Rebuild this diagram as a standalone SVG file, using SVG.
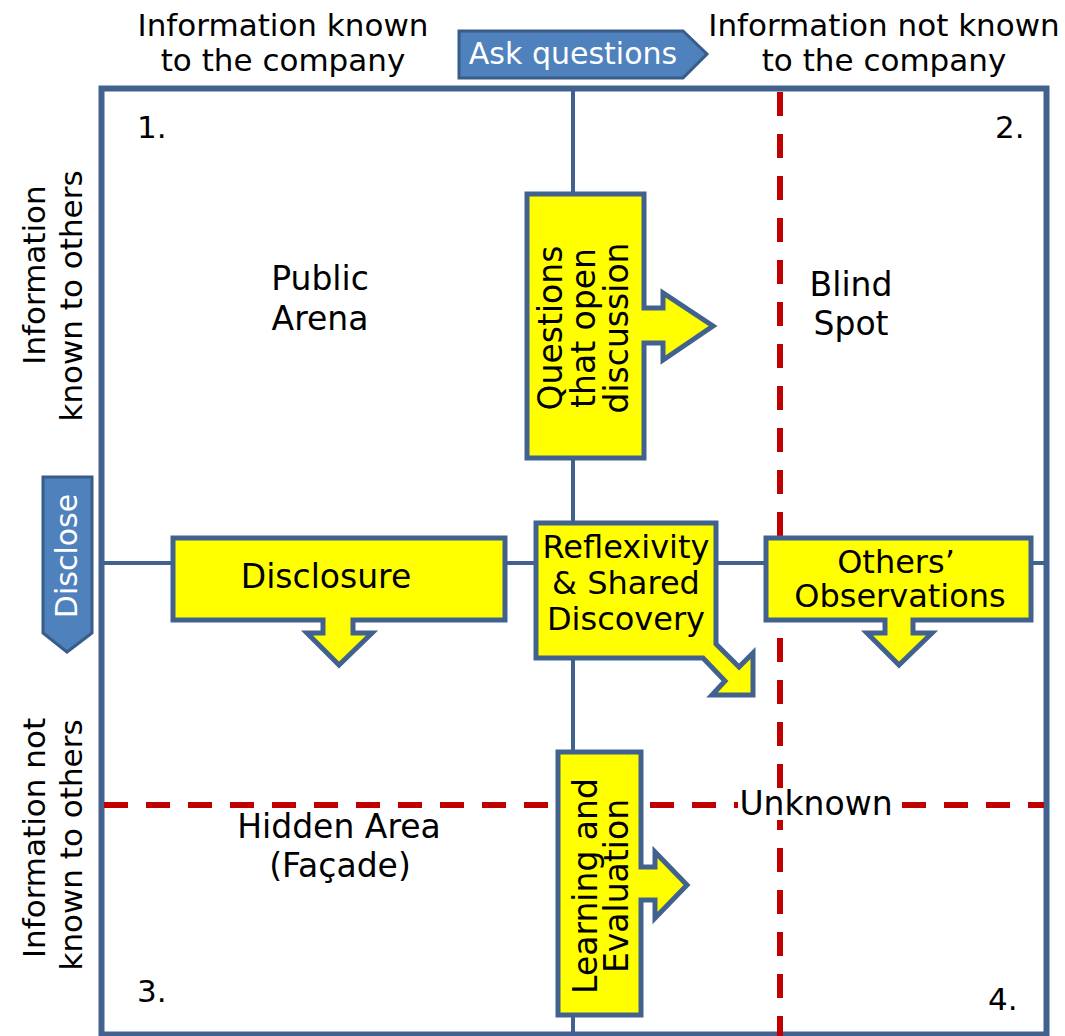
<svg xmlns="http://www.w3.org/2000/svg" width="1065" height="1036" viewBox="0 0 1065 1036">
<style>
text{font-family:"DejaVu Sans","Verdana",sans-serif;fill:#000;}
.h{font-size:31px;text-anchor:middle;}
.b{font-size:33px;text-anchor:middle;}
.s{font-size:32px;text-anchor:middle;}
.n{font-size:31px;}
.w{fill:#fff;font-size:30px;text-anchor:middle;}
.frame{fill:none;stroke:#41628f;stroke-width:6;}
.axis{stroke:#41628f;stroke-width:4;fill:none;}
.red{stroke:#c00000;stroke-width:6;stroke-dasharray:24 18;fill:none;}
.ybox{fill:#ffff00;stroke:#41628f;stroke-width:5;stroke-linejoin:miter;}
.barrow{fill:#4f81bd;stroke:#385d8a;stroke-width:3;}
</style>
<rect x="0" y="0" width="1065" height="1036" fill="#fff"/>

<g id="connectors">
<rect class="frame" x="101.5" y="88.5" width="945" height="946"/>
<line class="axis" x1="573" y1="89" x2="573" y2="1036"/>
<line class="axis" x1="102" y1="563" x2="1046" y2="563"/>
<line class="red" x1="780" y1="92" x2="780" y2="1036"/>
<line class="red" x1="104" y1="805" x2="1044" y2="805"/>
</g>

<g id="header-left">
<text class="h" x="283" y="36">Information known</text>
<text class="h" x="283" y="71">to the company</text>
</g>
<g id="header-right">
<text class="h" x="884" y="36">Information not known</text>
<text class="h" x="884" y="71">to the company</text>
</g>

<g id="ask-questions">
<path class="barrow" d="M459,31 H683 L707,54 L683,78 H459 Z"/>
<text class="w" x="573" y="64">Ask questions</text>
</g>

<g id="side-top">
<text class="h" transform="translate(45,275) rotate(-90)">Information</text>
<text class="h" transform="translate(82,296) rotate(-90)">known to others</text>
</g>
<g id="side-bottom">
<text class="h" transform="translate(45,838) rotate(-90)">Information not</text>
<text class="h" transform="translate(82,845) rotate(-90)">known to others</text>
</g>

<g id="disclose">
<path class="barrow" d="M43,477 H92 V633 L67,652 L43,633 Z"/>
<text class="w" transform="translate(77,556) rotate(-90)">Disclose</text>
</g>

<g id="num1"><text class="n" x="137" y="138">1.</text></g>
<g id="num2"><text class="n" x="995" y="138">2.</text></g>
<g id="num3"><text class="n" x="137" y="1002">3.</text></g>
<g id="num4"><text class="n" x="988" y="1010">4.</text></g>

<g id="public-arena">
<text class="b" x="320" y="290">Public</text>
<text class="b" x="320" y="330">Arena</text>
</g>
<g id="blind-spot">
<text class="b" x="851" y="296">Blind</text>
<text class="b" x="851" y="335">Spot</text>
</g>
<g id="hidden-area">
<text class="b" x="339" y="838">Hidden Area</text>
<text class="b" x="340" y="877">(Façade)</text>
</g>
<g id="unknown">
<rect x="738" y="788" width="156" height="32" fill="#fff"/>
<text class="b" x="816" y="815">Unknown</text>
</g>

<g id="questions-open-discussion">
<path class="ybox" d="M527,194 H644 V308 H663 V293 L713,326 L663,360 V343 H644 V458 H527 Z"/>
<text class="b" transform="translate(562,328) rotate(-90)">Questions</text>
<text class="b" transform="translate(595,328) rotate(-90)">that open</text>
<text class="b" transform="translate(628,328) rotate(-90)">discussion</text>
</g>

<g id="disclosure">
<path class="ybox" d="M173,538 H505 V620 H353 V633 H372 L339,665 L307,633 H323 V620 H173 Z"/>
<text class="b" x="326" y="588">Disclosure</text>
</g>

<g id="reflexivity">
<path class="ybox" d="M536,523 H716 V644 L739,667 L753,653 V695 H712 L725,681 L703,658 H536 Z"/>
<text class="s" x="626" y="558">Reflexivity</text>
<text class="s" x="626" y="594">&amp; Shared</text>
<text class="s" x="626" y="630">Discovery</text>
</g>

<g id="others-observations">
<path class="ybox" d="M766,538 H1031 V620 H913 V633 H932 L899,665 L867,633 H885 V620 H766 Z"/>
<text class="s" x="896" y="573">Others’</text>
<text class="s" x="900" y="607">Observations</text>
</g>

<g id="learning-evaluation">
<path class="ybox" d="M558,752 H641 V867 H655 V852 L687,885 L655,918 V900 H641 V1015 H558 Z"/>
<text class="b" transform="translate(597,886) rotate(-90)">Learning and</text>
<text class="b" transform="translate(628,886) rotate(-90)">Evaluation</text>
</g>
</svg>
